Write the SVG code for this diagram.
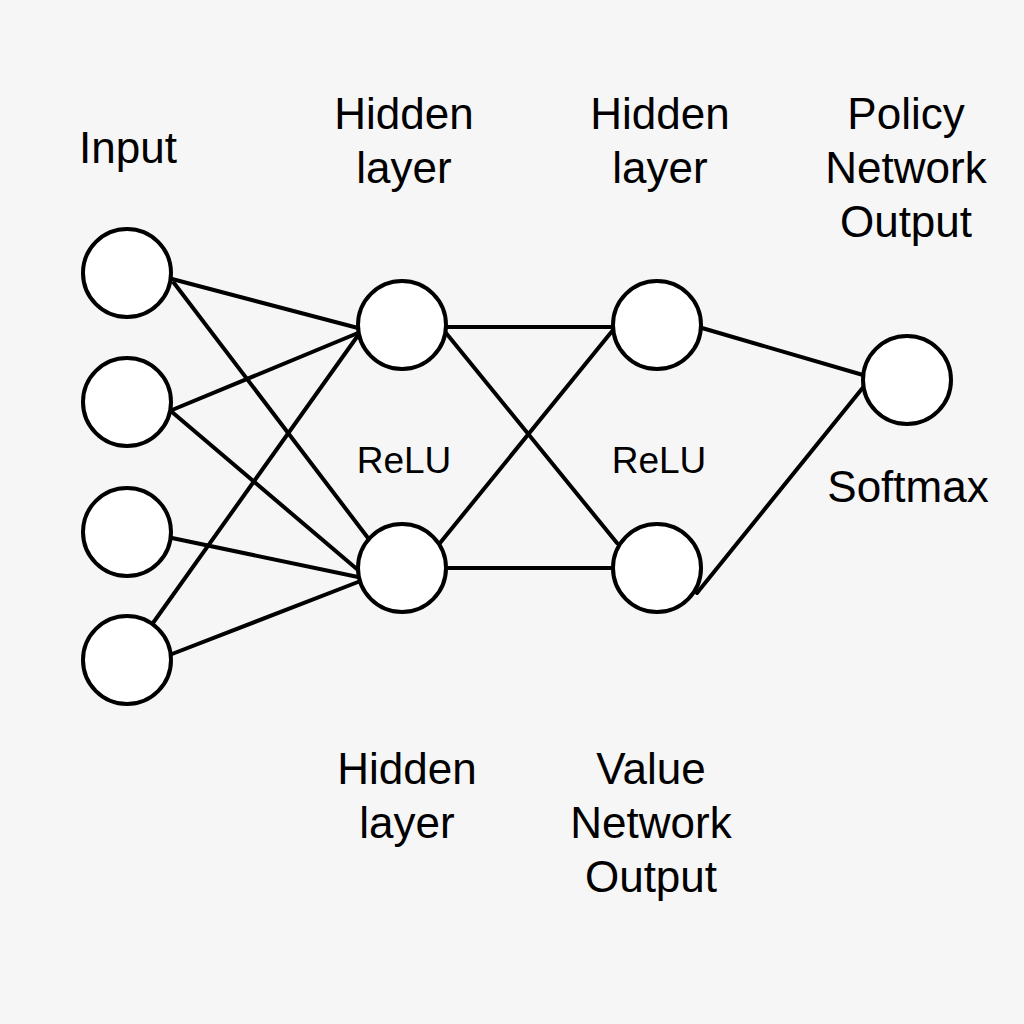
<svg xmlns="http://www.w3.org/2000/svg" width="1024" height="1024" viewBox="0 0 1024 1024">
  <style>
    .node { fill: #ffffff; stroke: #000000; stroke-width: 4; }
    .edge { stroke: #000000; stroke-width: 4; stroke-linecap: round; fill: none; }
    .lbl { font-family: "Liberation Sans", Arial, sans-serif; font-size: 44px; fill: #000000; text-anchor: middle; }
    .act { font-family: "Liberation Sans", Arial, sans-serif; font-size: 37px; fill: #000000; text-anchor: middle; }
  </style>
  <rect x="0" y="0" width="1024" height="1024" fill="#f6f6f6"/>

  <g id="connectors">
    <line class="edge" x1="172" y1="279" x2="358" y2="328"/>
    <line class="edge" x1="174" y1="283" x2="368" y2="538"/>
    <line class="edge" x1="172" y1="410" x2="358" y2="333"/>
    <line class="edge" x1="172" y1="412" x2="358" y2="570"/>
    <line class="edge" x1="172" y1="538" x2="358" y2="577"/>
    <line class="edge" x1="172" y1="654" x2="358" y2="582"/>
    <line class="edge" x1="153" y1="623" x2="359" y2="334"/>
    <line class="edge" x1="446" y1="327" x2="613" y2="327"/>
    <line class="edge" x1="446" y1="333" x2="617" y2="543"/>
    <line class="edge" x1="440" y1="543" x2="613" y2="330"/>
    <line class="edge" x1="446" y1="568" x2="612" y2="568"/>
    <line class="edge" x1="702" y1="328" x2="863" y2="375"/>
    <line class="edge" x1="697" y1="593" x2="865" y2="385"/>
  </g>

  <g id="input1"><circle class="node" cx="127" cy="273" r="44"/></g>
  <g id="input2"><circle class="node" cx="127" cy="402" r="44"/></g>
  <g id="input3"><circle class="node" cx="127" cy="532" r="44"/></g>
  <g id="input4"><circle class="node" cx="127" cy="660" r="44"/></g>
  <g id="hidden1a"><circle class="node" cx="402" cy="325" r="44"/></g>
  <g id="hidden1b"><circle class="node" cx="402" cy="568" r="44"/></g>
  <g id="hidden2a"><circle class="node" cx="657" cy="325" r="44"/></g>
  <g id="hidden2b"><circle class="node" cx="657" cy="568" r="44"/></g>
  <g id="output"><circle class="node" cx="907" cy="380" r="44"/></g>

  <g id="labels">
    <text class="lbl" x="128" y="163">Input</text>
    <text class="lbl" x="404" y="129">Hidden</text>
    <text class="lbl" x="404" y="183">layer</text>
    <text class="lbl" x="660" y="129">Hidden</text>
    <text class="lbl" x="660" y="183">layer</text>
    <text class="lbl" x="906" y="129">Policy</text>
    <text class="lbl" x="906" y="183">Network</text>
    <text class="lbl" x="906" y="237">Output</text>
    <text class="act" x="404" y="473">ReLU</text>
    <text class="act" x="659" y="473">ReLU</text>
    <text class="lbl" x="908" y="502">Softmax</text>
    <text class="lbl" x="407" y="784">Hidden</text>
    <text class="lbl" x="407" y="838">layer</text>
    <text class="lbl" x="651" y="784">Value</text>
    <text class="lbl" x="651" y="838">Network</text>
    <text class="lbl" x="651" y="892">Output</text>
  </g>
</svg>
